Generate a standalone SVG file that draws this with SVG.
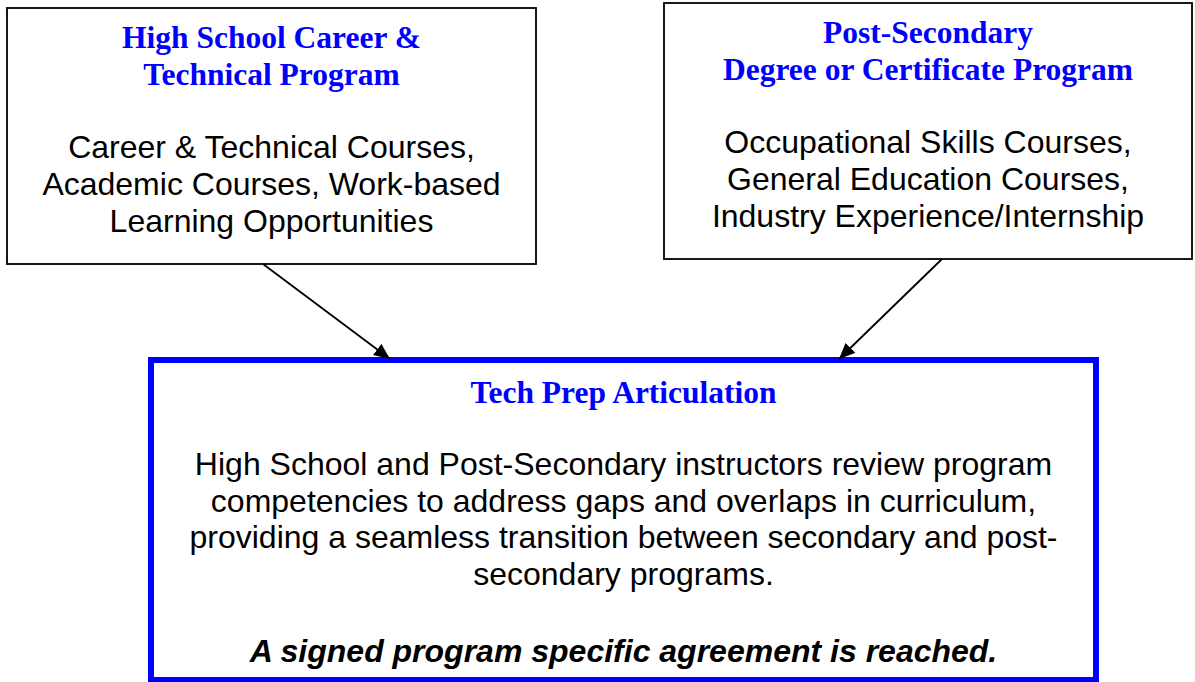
<svg xmlns="http://www.w3.org/2000/svg" width="1195" height="682" viewBox="0 0 1195 682">
<style>
  .box { fill: #ffffff; stroke: #000000; stroke-width: 1.8; }
  .main { fill: #ffffff; stroke: #0000ff; stroke-width: 6; }
  .title { font-family: "Liberation Serif", "Times New Roman", serif; font-weight: bold; font-size: 31.5px; fill: #0000ff; text-anchor: middle; }
  .body { font-family: "Liberation Sans", Arial, sans-serif; font-size: 32px; fill: #000000; text-anchor: middle; }
  .emph { font-family: "Liberation Sans", Arial, sans-serif; font-size: 32px; font-weight: bold; font-style: italic; fill: #000000; text-anchor: middle; }
  .conn { stroke: #000000; stroke-width: 1.8; fill: none; }
</style>
<defs>
  <marker id="arrow" markerUnits="userSpaceOnUse" markerWidth="18" markerHeight="14" refX="16" refY="7" orient="auto">
    <path d="M0,0 L16,7 L0,14 Z" fill="#000000"/>
  </marker>
</defs>
<rect width="1195" height="682" fill="#ffffff"/>
<g id="high-school">
  <rect class="box" x="7" y="8" width="529" height="256"/>
  <text class="title" x="271.5" y="48">High School Career &amp;</text>
  <text class="title" x="271.5" y="85">Technical Program</text>
  <text class="body" x="271.5" y="158">Career &amp; Technical Courses,</text>
  <text class="body" x="271.5" y="195">Academic Courses, Work-based</text>
  <text class="body" x="271.5" y="232">Learning Opportunities</text>
</g>
<g id="post-secondary">
  <rect class="box" x="664" y="3" width="528" height="256"/>
  <text class="title" x="928" y="43">Post-Secondary</text>
  <text class="title" x="928" y="80">Degree or Certificate Program</text>
  <text class="body" x="928" y="153">Occupational Skills Courses,</text>
  <text class="body" x="928" y="190">General Education Courses,</text>
  <text class="body" x="928" y="227">Industry Experience/Internship</text>
</g>
<g id="tech-prep">
  <rect class="main" x="151" y="360" width="945" height="320"/>
  <text class="title" x="623.5" y="403">Tech Prep Articulation</text>
  <text class="body" x="623.5" y="475">High School and Post-Secondary instructors review program</text>
  <text class="body" x="623.5" y="512">competencies to address gaps and overlaps in curriculum,</text>
  <text class="body" x="623.5" y="548">providing a seamless transition between secondary and post-</text>
  <text class="body" x="623.5" y="585">secondary programs.</text>
  <text class="emph" x="623.5" y="662">A signed program specific agreement is reached.</text>
</g>
<g id="connectors">
  <line class="conn" x1="263" y1="264" x2="390" y2="359" marker-end="url(#arrow)"/>
  <line class="conn" x1="942" y1="259" x2="839" y2="359" marker-end="url(#arrow)"/>
</g>
</svg>
